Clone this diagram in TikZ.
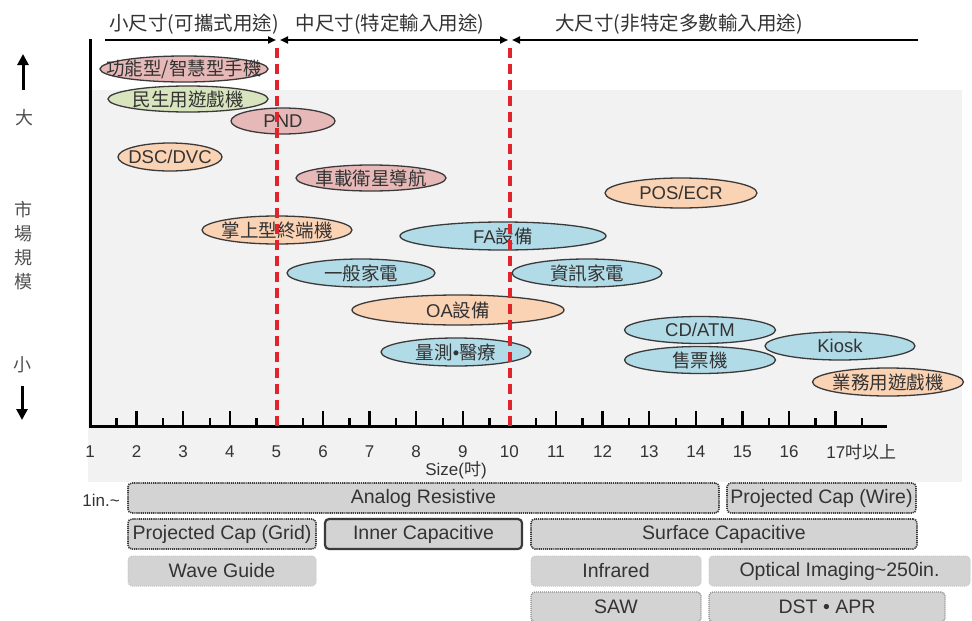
\documentclass[tikz,border=0pt]{standalone}
\usepackage{fontspec}
\setmainfont{Liberation Sans}
\newfontfamily\cjk{Noto Sans CJK TC}
\usetikzlibrary{shapes.geometric,arrows.meta}
\definecolor{bggray}{HTML}{F2F2F2}
\definecolor{pinkf}{HTML}{E6B9B8}
\definecolor{greenf}{HTML}{D7E4BD}
\definecolor{peachf}{HTML}{FAD2B4}
\definecolor{bluef}{HTML}{B2DBE8}
\definecolor{ellline}{HTML}{3A3A3A}
\definecolor{txt}{HTML}{333333}
\definecolor{lbl}{HTML}{505050}
\definecolor{boxf}{HTML}{D3D3D3}
\definecolor{redd}{HTML}{E3232B}
\newcommand{\myoval}[6]{%
  \node[ell, fill=#5, minimum width=#3, minimum height=#4] (#1) at (#2) {};
  \node[etext] (#1-t) at (#1.center) {#6};}
\begin{document}
\begin{tikzpicture}[x=1pt,y=-1pt,
  ell/.style={ellipse, draw=ellline, line width=1.3pt, inner sep=0pt},
  etext/.style={text=txt, inner sep=0pt, font=\fontsize{18.5}{20}\selectfont},
  hdr/.style={text=txt, inner sep=0pt, font=\cjk\fontsize{19.5}{22}\selectfont},
  side/.style={text=lbl, inner sep=0pt, font=\cjk\fontsize{18}{20}\selectfont},
  num/.style={text=txt, inner sep=0pt, font=\fontsize{17}{20}\selectfont},
  boxbase/.style={rectangle, rounded corners=4pt, fill=boxf, inner sep=0pt, minimum height=30, text=txt, font=\fontsize{19.5}{21}\selectfont},
  dotbox/.style={boxbase, draw=ellline, line width=1.6pt, dash pattern=on 1.2pt off 0.9pt},
  solidbox/.style={boxbase, draw=ellline, line width=2.2pt},
  faintbox/.style={boxbase, draw=black!22, line width=1pt, dash pattern=on 1pt off 1pt},
  midbox/.style={boxbase, draw=black!45, line width=1.3pt, dash pattern=on 1pt off 1pt},
  hline/.style={line width=2pt, black},
  tipR/.style={-{Triangle[length=8pt,width=7pt]}},
  tickmark/.style={line width=2.5pt, black},
  reddash/.style={redd, line width=3.5pt, dash pattern=on 10pt off 6pt},
  bigarrow/.style={line width=3pt, -{Triangle[length=11pt,width=11pt]}}
]
\useasboundingbox (0,0) rectangle (972,621);
\clip (0,0) rectangle (972,621);
\fill[white] (0,0) rectangle (972,621);
\fill[bggray] (88,90) rectangle (962,482);

% header
\node[hdr] (h1) at (194,24) {小尺寸(可攜式用途)};
\node[hdr] (h2) at (390,24) {中尺寸(特定輸入用途)};
\node[hdr] (h3) at (679,24) {大尺寸(非特定多數輸入用途)};
\coordinate (a0) at (105,40);
\coordinate (a1) at (276,40);
\coordinate (a2) at (280,40);
\coordinate (a3) at (508,40);
\coordinate (a4) at (512,40);
\coordinate (a5) at (918,40);
\draw[hline, tipR] (a0) -- (a1);
\draw[hline, {Triangle[length=8pt,width=7pt]}-{Triangle[length=8pt,width=7pt]}] (a2) -- (a3);
\draw[hline, {Triangle[length=8pt,width=7pt]}-] (a4) -- (a5);

% left side labels
\coordinate (upb) at (23,90);
\coordinate (upt) at (23,54);
\draw[bigarrow] (upb) -- (upt);
\node[side] (big) at (24,118) {大};
\node[side] (m1) at (23,210) {市};
\node[side] (m2) at (23,234) {場};
\node[side] (m3) at (23,258) {規};
\node[side] (m4) at (23,282) {模};
\node[side] (small) at (22,365) {小};
\coordinate (dnt) at (22,386);
\coordinate (dnb) at (22,420);
\draw[bigarrow] (dnt) -- (dnb);

% ellipses
\myoval{phone}{184,69}{168}{26}{pinkf}{\cjk 功能型/智慧型手機}
\myoval{game}{188,99}{160}{26}{greenf}{\cjk 民生用遊戲機}
\myoval{pnd}{283,121}{104}{26}{pinkf}{PND}
\myoval{dsc}{170,157}{104}{28}{peachf}{DSC/DVC}
\myoval{car}{371,178}{150}{26}{pinkf}{\cjk 車載衛星導航}
\myoval{hand}{277,230}{150}{28}{peachf}{\cjk 掌上型終端機}
\myoval{fa}{503,236}{206}{28}{bluef}{FA{\cjk 設備}}
\myoval{home}{361,273}{148}{28}{bluef}{\cjk 一般家電}
\myoval{info}{587,273}{150}{28}{bluef}{\cjk 資訊家電}
\myoval{oa}{458,310}{212}{30}{peachf}{OA{\cjk 設備}}
\myoval{med}{456,352}{150}{28}{bluef}{{\cjk 量測}•{\cjk 醫療}}
\myoval{pos}{681,193}{152}{30}{peachf}{POS/ECR}
\myoval{atm}{700,330}{151}{27}{bluef}{CD/ATM}
\myoval{ticket}{700,360}{151}{27}{bluef}{\cjk 售票機}
\myoval{kiosk}{840,346}{150}{28}{bluef}{Kiosk}
\myoval{arcade}{888,382}{151}{28}{peachf}{\cjk 業務用遊戲機}

% axes
\coordinate (ytop) at (90,40);
\coordinate (orig) at (90,426);
\coordinate (xend) at (885,426);
\draw[line width=3pt, line cap=rect] (ytop) -- (orig) -- (xend);
\foreach \n in {2,3,4,6,7,8,9,11,12,13,14,15,16,17}
  \draw[tickmark] ({90+(\n-1)*46.6},426) -- ++(0,-15);
\foreach \n in {1,...,17}
  \draw[tickmark] ({90+(\n-0.43)*46.6},426) -- ++(0,-8);
\foreach \n in {1,...,16}
  \node[num] (num\n) at ({90+(\n-1)*46.6},452) {\n};
\node[num, anchor=west] (num17) at ({90+16*46.6-9.5},452) {17{\cjk 吋以上}};
\node[num] (sizelbl) at (456,470) {Size({\cjk 吋})};

% red dashed separators
\coordinate (r5t) at (277,48);
\coordinate (r5b) at (277,426);
\coordinate (r10t) at (510,48);
\coordinate (r10b) at (510,426);
\draw[reddash] (r5t) -- (r5b);
\draw[reddash] (r10t) -- (r10b);

% technology boxes
\node[num, anchor=east] (inch) at (120,500) {1in.\textasciitilde};
\node[dotbox, minimum width=591] (analog) at (423.5,498) {Analog Resistive};
\node[dotbox, minimum width=189] (pwire) at (821.5,498) {Projected Cap (Wire)};
\node[dotbox, minimum width=188] (pgrid) at (222,534) {Projected Cap (Grid)};
\node[solidbox, minimum width=197] (inner) at (423.5,534) {Inner Capacitive};
\node[dotbox, minimum width=386] (surf) at (724,534) {Surface Capacitive};
\node[faintbox, minimum width=188] (wave) at (222,571) {Wave Guide};
\node[faintbox, minimum width=170] (ir) at (616,571) {Infrared};
\node[faintbox, minimum width=261] (optic) at (839.5,571) {Optical Imaging\textasciitilde250in.};
\node[midbox, minimum width=170] (saw) at (616,607) {SAW};
\node[midbox, minimum width=236] (dst) at (827,607) {DST • APR};
\end{tikzpicture}
\end{document}
